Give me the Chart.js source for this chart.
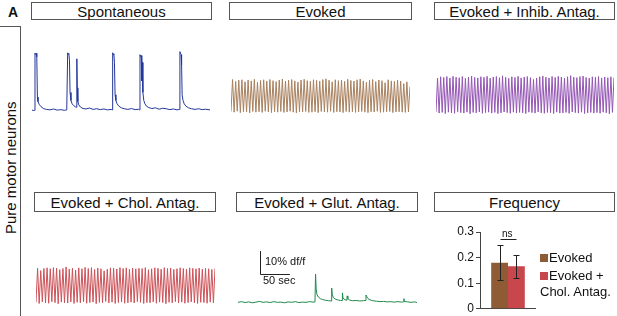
<!DOCTYPE html>
<html><head><meta charset="utf-8">
<script src="https://cdn.jsdelivr.net/npm/chart.js@4.4.1/dist/chart.umd.min.js"></script>
<style>
body{margin:0;width:617px;height:316px;background:#fff;position:relative;overflow:hidden;font-family:"Liberation Sans",Arial,sans-serif;color:#111}
.box{position:absolute;border:1px solid #555;box-sizing:border-box;font-size:15px;display:flex;align-items:center;justify-content:center;white-space:nowrap}
.t{position:absolute;white-space:nowrap}
canvas{position:absolute}
</style></head><body>
<div class="t" style="left:8px;top:4px;font-weight:bold;font-size:14px">A</div>
<div class="box" style="left:-1px;top:26px;width:22px;height:300px;"></div>
<div class="t" style="left:1px;top:100px;width:18px;height:136px;font-size:15px;writing-mode:vertical-rl;transform:rotate(180deg);display:flex;align-items:center;justify-content:center">Pure motor neurons</div>

<div class="box" style="left:31px;top:2px;width:181px;height:18px">Spontaneous</div>
<div class="box" style="left:229px;top:2px;width:183px;height:18px">Evoked</div>
<div class="box" style="left:434px;top:2px;width:181px;height:18px">Evoked + Inhib. Antag.</div>
<div class="box" style="left:34px;top:192px;width:182px;height:20px">Evoked + Chol. Antag.</div>
<div class="box" style="left:236px;top:192px;width:182px;height:20px">Evoked + Glut. Antag.</div>
<div class="box" style="left:434px;top:192px;width:181px;height:20px">Frequency</div>

<canvas id="spont" width="178" height="80" style="left:32px;top:40px"></canvas>
<canvas id="evoked" width="179" height="80" style="left:231px;top:40px"></canvas>
<canvas id="inhib" width="178" height="80" style="left:436px;top:40px"></canvas>
<canvas id="chol" width="179" height="80" style="left:36px;top:232px"></canvas>
<canvas id="glut" width="179" height="80" style="left:238px;top:232px"></canvas>
<canvas id="freq" width="111" height="96" style="left:425px;top:222px"></canvas>

<div class="t" style="left:265px;top:255px;font-size:11px">10% df/f</div>
<div class="t" style="left:263px;top:274px;font-size:11px">50 sec</div>
<div class="t" style="left:502px;top:228px;font-size:10px">ns</div>

<div class="t" style="left:540px;top:254px;width:8px;height:8px;background:#8e5b34"></div>
<div class="t" style="left:549px;top:250px;font-size:13px">Evoked</div>
<div class="t" style="left:540px;top:272px;width:8px;height:8px;background:#c8474c"></div>
<div class="t" style="left:549px;top:268px;font-size:13px">Evoked +</div>
<div class="t" style="left:540px;top:284px;font-size:13px">Chol. Antag.</div>

<script>
// ---- data (time in s, values in % df/f) ----
const spontT = [0,3,4.5,5,6,7,8,9,10,12,15,19,24,30,36,42,48,54,58,
  59.5,60.5,61.5,62.5,63.5,65,67,70,73,74.3,74.8,75.6,76.5,78,81,85,90,96,102,108,114,120,126,132,134,
  134.6,135.6,136.6,137.6,138.6,140,142,145,149,154,160,166,172,178,179.5,
  180.2,181.2,182.2,183.2,184,185,186.5,188.5,191,195,200,206,212,218,224,230,236,242,246,
  246.8,247.8,248.8,249.6,250.5,252,254,257,261,266,272,278,284,290,297];
const spontV = [0.3,0.1,0.2,25.1,24.5,25.0,23.5,6,4,2.8,1.8,1.0,0.6,0.4,0.8,0.3,0.5,0.2,0.4,
  25.2,24.6,24.9,22,8,4.5,3,2.2,1.6,1.5,22.6,10,4,2.6,1.6,1.0,0.8,1.2,0.6,0.9,0.5,0.8,0.4,0.6,0.4,
  25.2,24.4,24.8,21,7,4.5,3,2,1.3,0.9,0.6,1.0,0.5,0.7,0.4,
  24.4,23.6,24.0,13,21,8,4.5,3,2,1.4,1.0,1.3,0.7,1.1,0.9,0.5,0.8,0.4,0.6,
  25.7,25.0,24.4,20,7,4.5,3,2,1.3,0.9,0.6,0.9,0.5,0.7,0.4];

const evokedPeaks = [13.6,12.8,13.3,13.5,12.6,13.4,13.0,13.7,12.4,13.2,13.5,12.9,13.6,13.1,12.7,13.4,13.8,12.9,13.3,13.6,13.0,12.5,13.4,13.7,13.1,12.8,13.5,13.2,12.9,13.6,13.9,13.3,12.6,13.5,13.1,13.4,12.8,13.7,13.2,12.9,13.5,13.8,13.0,12.4,13.3,13.6,12.7,13.4,13.1,12.2,13.5,13.0,12.8,13.4,12.9,11.8,12.6,10.5];
const evokedTroughs = [-0.3,-0.6,-0.2,-0.8,-0.4,-0.5,-0.9,-0.3,-0.6,-0.4,-0.7,-0.2,-0.5,-0.8,-0.4,-0.6,-0.3,-0.7,-0.5,-0.2,-0.6,-0.9,-0.4,-0.5,-0.3,-0.7,-0.6,-0.4,-0.8,-0.3,-0.5,-0.6,-0.2,-0.7,-0.4,-0.5,-0.8,-0.3,-0.6,-0.4,-0.7,-0.5,-0.3,-0.6,-0.8,-0.4,-0.5,-0.2,-0.7,-0.6,-0.4,-0.3,-0.8,-0.5,-0.4,-0.6,-0.7,-0.5];

const inhibPeaks = [14.2,14.8,14.5,14.9,14.3,15.0,14.6,14.4,14.9,14.1,14.7,15.1,14.5,14.3,14.8,14.6,15.0,14.2,14.7,14.9,14.4,15.2,14.6,14.1,14.8,14.5,15.0,14.3,14.7,14.9,14.4,13.6,14.2,14.8,15.1,14.6,14.3,14.9,14.5,15.0,14.7,14.2,14.8,15.3,14.6,14.4,14.9,15.1,14.5,14.2,14.8,14.6,14.9,14.3,14.7,14.4,14.8,14.5];
const inhibTroughs = [-0.5,-1.0,-0.7,-1.2,-0.6,-0.9,-1.1,-0.4,-0.8,-1.0,-0.6,-1.3,-0.7,-0.9,-0.5,-1.1,-0.8,-0.6,-1.0,-0.7,-1.2,-0.9,-0.5,-0.8,-1.1,-0.6,-1.0,-0.7,-0.9,-1.2,-0.6,-0.8,-1.0,-0.5,-0.9,-1.1,-0.7,-0.8,-1.2,-0.6,-1.0,-0.9,-0.7,-1.1,-0.5,-0.8,-1.0,-0.6,-1.2,-0.9,-0.7,-1.0,-0.8,-1.1,-0.6,-0.9,-1.3,-0.7];

const cholPeaks = [15.0,14.0,14.9,15.2,14.8,15.3,15.1,14.4,14.9,15.6,14.7,15.0,14.2,15.2,14.8,15.4,14.9,15.3,14.5,15.1,14.8,13.9,14.6,15.2,15.0,14.7,15.3,14.9,15.2,14.6,15.1,14.8,15.0,14.9,15.3,14.4,14.8,15.2,15.0,14.6,15.3,14.9,15.1,14.5,14.8,15.2,14.9,14.7,15.2,15.0,14.8,15.1,14.6,15.0,14.8,14.5,14.9];
const cholTroughs = [0.2,-0.3,0.4,0.0,-0.2,0.5,0.1,-0.4,0.3,0.0,-0.1,0.4,-0.3,0.2,0.0,0.5,-0.2,0.1,0.3,-0.4,0.2,0.0,0.6,-0.1,0.3,-0.3,0.1,0.4,-0.2,0.0,0.3,-0.1,0.5,0.2,-0.3,0.1,0.0,0.4,-0.2,0.3,0.1,-0.4,0.2,0.0,0.5,-0.1,0.3,-0.2,0.1,0.4,0.0,-0.3,0.2,0.1,-0.2,0.3,0.0];

const glutT = [0,6,12,18,24,30,36,42,48,54,60,66,72,78,84,90,96,102,108,114,120,126,129,
  130,131,132.5,135,138,142,147,152,156,
  157,158,160,164,168,172,174.5,
  175,176,178,181,182.5,183,184,187,192,198,204,210,213,
  214.5,216,218,221,226,232,238,244,250,256,262,268,274,277.5,
  278,279,284,290,296,300];
const glutV = [0.2,0.5,0.1,0.4,0.0,0.3,0.6,0.2,0.4,0.1,0.5,0.2,0.3,0.0,0.4,0.2,0.5,0.1,0.3,0.2,0.5,0.3,0.4,
  12.5,6,3.5,2.4,1.8,1.4,1.1,0.9,0.8,
  6.4,3.5,2.2,1.5,1.2,1.0,1.0,
  4.3,2.2,1.5,1.2,1.1,3.0,1.8,1.2,0.9,1.0,0.8,0.9,1.0,
  3.4,2.6,1.8,1.3,0.9,0.7,0.5,0.6,0.4,0.5,0.3,0.5,0.3,0.4,
  1.8,0.6,0.4,0.2,0.4,0.1];

const freqLabels = ['Evoked', 'Evoked + Chol. Antag.'];
const freqValues = [0.18, 0.166];
const freqErrors = [0.068, 0.044];
const nsLevel = 0.272;
const yTicks = [0, 0.1, 0.2, 0.3];

// ---- helpers ----
Chart.defaults.font.family = '"Liberation Sans", Arial, sans-serif';
Chart.defaults.color = '#111';
const VMIN = -4, VMAX = -4 + 80 / 2.3;

function interleave(tr, pk) { const o = []; for (let i = 0; i < pk.length; i++) { o.push(tr[i], pk[i]); } return o; }

function baseOpts(xScale) {
  return {
    responsive: false, animation: false,
    layout: { padding: 0 },
    plugins: { legend: { display: false }, tooltip: { enabled: false } },
    elements: { point: { radius: 0 }, line: { tension: 0, borderWidth: 1 } },
    scales: { x: Object.assign({ display: false }, xScale), y: { display: false, min: VMIN, max: VMAX } }
  };
}

function catTrace(id, tr, pk, color) {
  const d = interleave(tr, pk);
  new Chart(document.getElementById(id), {
    type: 'line',
    data: { labels: d.map((_, i) => i), datasets: [{ data: d, borderColor: color, borderWidth: 1 }] },
    options: baseOpts({ type: 'category' })
  });
}

function timeTrace(id, T, V, color, extra, plugins) {
  const o = baseOpts({ type: 'linear', min: 0, max: T[T.length - 1] });
  if (extra) Object.assign(o.plugins, extra);
  new Chart(document.getElementById(id), {
    type: 'line',
    data: { datasets: [{ data: T.map((t, i) => ({ x: t, y: V[i] })), borderColor: color, borderWidth: 1 }] },
    options: o,
    plugins: plugins || []
  });
}

timeTrace('spont', spontT, spontV, '#23379a');
catTrace('evoked', evokedTroughs, evokedPeaks, '#a8805e');
catTrace('inhib', inhibTroughs, inhibPeaks, '#9456b4');
catTrace('chol', cholTroughs, cholPeaks, '#cc5258');

const scaleBarPlugin = {
  id: 'scaleBar',
  afterDraw(chart, args, opts) {
    const { ctx, scales: { x, y } } = chart;
    const x0 = x.getPixelForValue(opts.t), x1 = x.getPixelForValue(opts.t + opts.dt);
    const y0 = y.getPixelForValue(opts.v), y1 = y.getPixelForValue(opts.v + opts.dv);
    ctx.save(); ctx.strokeStyle = '#222'; ctx.lineWidth = 1;
    ctx.beginPath();
    ctx.moveTo(Math.round(x0) + 0.5, y1); ctx.lineTo(Math.round(x0) + 0.5, Math.round(y0) + 0.5);
    ctx.lineTo(x1, Math.round(y0) + 0.5);
    ctx.stroke(); ctx.restore();
  }
};
timeTrace('glut', glutT, glutV, '#1f8a4c', { scaleBar: { t: 37, v: 12.5, dv: 10, dt: 50 } }, [scaleBarPlugin]);

const errPlugin = {
  id: 'errBars',
  afterDatasetsDraw(chart) {
    const { ctx, scales: { y } } = chart;
    ctx.save(); ctx.strokeStyle = '#222'; ctx.lineWidth = 1;
    const xs = [];
    chart.data.datasets.forEach((ds, i) => {
      const bar = chart.getDatasetMeta(i).data[0];
      const cx = Math.round(bar.x) + 0.5; xs.push(cx);
      const v = ds.data[0], e = freqErrors[i];
      const yt = Math.round(y.getPixelForValue(v + e)) + 0.5, yb = Math.round(y.getPixelForValue(v - e)) + 0.5;
      ctx.beginPath();
      ctx.moveTo(cx, yt); ctx.lineTo(cx, yb);
      ctx.moveTo(cx - 3, yt); ctx.lineTo(cx + 3, yt);
      ctx.moveTo(cx - 3, yb); ctx.lineTo(cx + 3, yb);
      ctx.stroke();
    });
    const yn = Math.round(y.getPixelForValue(nsLevel)) + 0.5;
    ctx.beginPath(); ctx.moveTo(xs[0], yn); ctx.lineTo(xs[1], yn); ctx.stroke();
    ctx.restore();
  }
};

new Chart(document.getElementById('freq'), {
  type: 'bar',
  data: {
    labels: ['Frequency'],
    datasets: [
      { label: freqLabels[0], data: [freqValues[0]], backgroundColor: '#8e5b34' },
      { label: freqLabels[1], data: [freqValues[1]], backgroundColor: '#c8474c' }
    ]
  },
  options: {
    responsive: false, animation: false,
    layout: { padding: { top: 10, right: 0, left: 0, bottom: 0 } },
    plugins: { legend: { display: false }, tooltip: { enabled: false } },
    datasets: { bar: { categoryPercentage: 0.6, barPercentage: 1.0 } },
    scales: {
      x: { ticks: { display: false }, grid: { display: false, drawTicks: false }, border: { display: true, color: '#444' },
           afterFit: s => { s.height = 6; } },
      y: { min: 0, max: 0.3,
           afterBuildTicks: s => { s.ticks = yTicks.map(v => ({ value: v })); },
           ticks: { font: { size: 12 }, color: '#111', padding: 2, callback: v => v === 0 ? '0' : v.toFixed(1) },
           grid: { display: true, drawOnChartArea: false, drawTicks: true, tickLength: 4, color: '#444' },
           border: { display: true, color: '#444' },
           afterFit: s => { s.width = 55; } }
    }
  },
  plugins: [errPlugin]
});
</script>
</body></html>
